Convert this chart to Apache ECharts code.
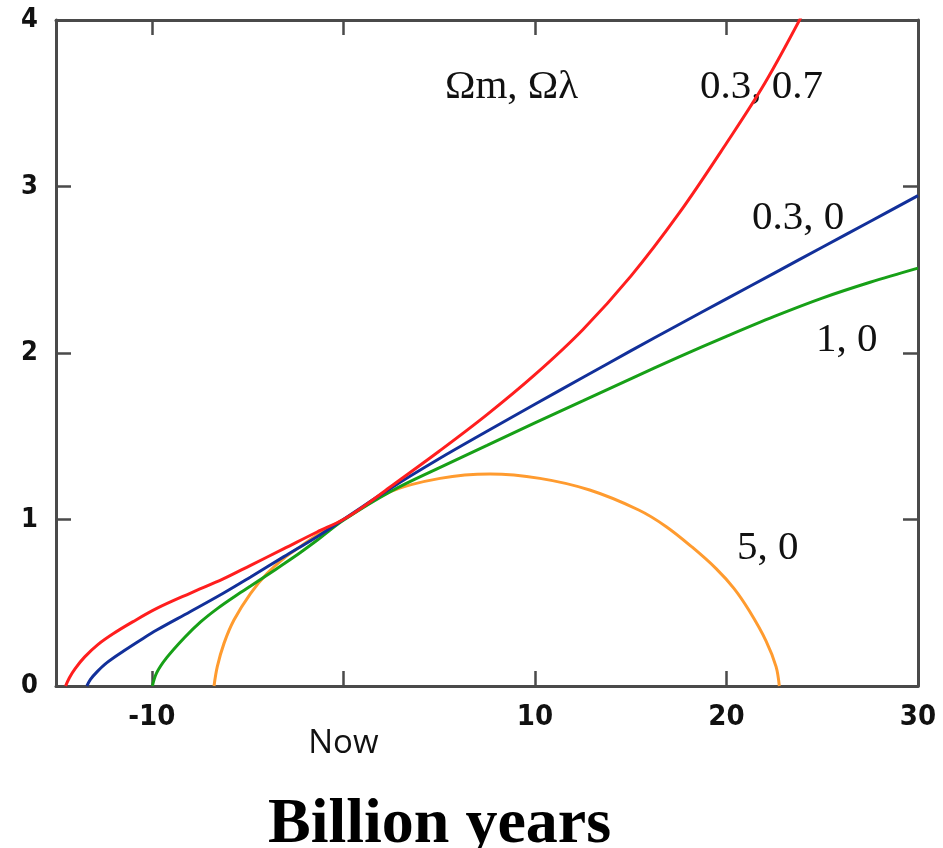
<!DOCTYPE html>
<html>
<head>
<meta charset="utf-8">
<script src="https://cdn.jsdelivr.net/npm/echarts@6/dist/echarts.min.js"></script>
<style>
html,body{margin:0;padding:0;background:#fff;}
#chart{width:943px;height:848px;}
</style>
</head>
<body>
<div id="chart"></div>
<script>
// x: billion years from now, y: relative size of the universe
const xTickValues = [-10, 0, 10, 20, 30];
const xTickLabels = ['-10', 'Now', '10', '20', '30'];

const redX = [-14.5, -14.3, -14.0, -13.5, -12.8, -12.0, -11.0, -9.74, -8, -6.27, -4.84, -3.1, -1.37, 0, 1.2, 2.5, 5, 7.5, 10, 12.5, 15, 17.5, 20, 22, 24];
const redY = [0, 0.05, 0.105, 0.175, 0.25, 0.315, 0.385, 0.466, 0.557, 0.643, 0.725, 0.825, 0.925, 1.0, 1.09, 1.2, 1.41, 1.63, 1.87, 2.14, 2.46, 2.835, 3.26, 3.62, 4.04];

const blueX = [-13.39, -13.2, -12.86, -12.34, -11.47, -10.6, -9.74, -8, -6.27, -4.84, -3.1, -1.37, 0, 2.5, 5, 7.5, 10, 12.5, 15, 17.5, 20, 22.5, 25, 27.5, 30];
const blueY = [0, 0.04, 0.085, 0.14, 0.21, 0.275, 0.336, 0.446, 0.557, 0.655, 0.777, 0.897, 1.0, 1.19, 1.365, 1.53, 1.6925, 1.8525, 2.0125, 2.17, 2.325, 2.48, 2.635, 2.79, 2.945];

const greenX = [-9.97, -9.74, -9.22, -8.3, -7.45, -6.58, -5.71, -4.84, -3.97, -3.1, -2.24, -1.37, 0, 2.5, 5, 7.5, 10, 12.5, 15, 17.5, 20, 22.5, 25, 27.5, 30];
const greenY = [0, 0.08, 0.17, 0.29, 0.385, 0.465, 0.535, 0.6, 0.667, 0.734, 0.802, 0.875, 0.995, 1.17, 1.31, 1.445, 1.58, 1.712, 1.845, 1.975, 2.1, 2.22, 2.33, 2.425, 2.51];

const orangeX = [-6.75, -6.58, -6.23, -5.71, -4.84, -3.97, -3.1, -2.24, -1.37, 0, 2.45, 5.05, 7.66, 10.26, 12.86, 15.42, 16.86, 18.2, 19.46, 20.4, 21.2, 22.07, 22.59, 22.76];
const orangeY = [0, 0.116, 0.256, 0.396, 0.557, 0.677, 0.767, 0.837, 0.907, 1.0, 1.167, 1.247, 1.273, 1.247, 1.177, 1.057, 0.957, 0.835, 0.705, 0.585, 0.45, 0.27, 0.116, 0];

const seriesNames = ['0.3, 0.7', '0.3, 0', '1, 0', '5, 0'];
const headerText = 'Ωm, Ωλ';
const xTitle = 'Billion years';

function pairs(xs, ys) { return xs.map((x, i) => [x, ys[i]]); }

const chart = echarts.init(document.getElementById('chart'), null, {renderer: 'canvas'});
const axisColor = '#4a4a4a';
const tickStyle = {show: true, inside: true, length: 15, lineStyle: {color: axisColor, width: 2.5}};
const lineStyleAxis = {show: true, onZero: false, lineStyle: {color: axisColor, width: 3}};
const serifFont = '"Liberation Serif", "Times New Roman", serif';
const annoFont = 'normal 41px ' + serifFont;
const tickFont = '"DejaVu Sans Condensed", "DejaVu Sans", sans-serif';

function mkLine(name, data, color) {
  return {
    name: name, type: 'line', data: data, smooth: 0.35, symbol: 'none',
    lineStyle: {color: color, width: 3}, clip: true, z: 3
  };
}

chart.setOption({
  animation: false,
  backgroundColor: '#ffffff',
  grid: {left: 56, right: 25, top: 20, bottom: 162, containLabel: false},
  title: {
    text: xTitle, left: 263, top: 788,
    textStyle: {fontFamily: serifFont, fontWeight: 'bold', fontSize: 64, color: '#000'}
  },
  xAxis: [{
    type: 'value', position: 'bottom', min: -15, max: 30,
    axisLine: lineStyleAxis,
    axisTick: Object.assign({}, tickStyle, {customValues: xTickValues}),
    splitLine: {show: false},
    axisLabel: {
      customValues: xTickValues,
      margin: 17,
      formatter: function (v) {
        const i = xTickValues.indexOf(v);
        const t = i >= 0 ? xTickLabels[i] : '';
        return v === 0 ? '{now|' + t + '}' : t;
      },
      fontFamily: tickFont, fontWeight: 'bold', fontSize: 29, color: '#111',
      rich: {
        now: {fontFamily: '"Open Sans", sans-serif', fontWeight: 'normal', fontSize: 33, color: '#111', padding: [24, 0, 0, 0]}
      }
    }
  }, {
    type: 'value', position: 'top', min: -15, max: 30,
    axisLine: lineStyleAxis,
    axisTick: Object.assign({}, tickStyle, {customValues: [-10, 0, 10, 20]}),
    axisLabel: {show: false}, splitLine: {show: false}
  }],
  yAxis: [{
    type: 'value', position: 'left', min: 0, max: 4, interval: 1,
    axisLine: lineStyleAxis, axisTick: tickStyle, splitLine: {show: false},
    axisLabel: {
      margin: 18,
      fontFamily: tickFont, fontWeight: 'bold', fontSize: 27, color: '#111'
    }
  }, {
    type: 'value', position: 'right', min: 0, max: 4, interval: 1,
    axisLine: lineStyleAxis, axisTick: tickStyle, splitLine: {show: false},
    axisLabel: {show: false}
  }],
  graphic: [
    {type: 'text', left: 445, top: 67, style: {text: headerText, font: annoFont, fill: '#111'}},
    {type: 'text', left: 700, top: 67, style: {text: seriesNames[0], font: annoFont, fill: '#111'}},
    {type: 'text', left: 752, top: 198, style: {text: seriesNames[1], font: annoFont, fill: '#111'}},
    {type: 'text', left: 816, top: 320, style: {text: seriesNames[2], font: annoFont, fill: '#111'}},
    {type: 'text', left: 737, top: 528, style: {text: seriesNames[3], font: annoFont, fill: '#111'}}
  ],
  series: [
    mkLine(seriesNames[3], pairs(orangeX, orangeY), '#ff9b2f'),
    mkLine(seriesNames[2], pairs(greenX, greenY), '#17a017'),
    mkLine(seriesNames[1], pairs(blueX, blueY), '#12309a'),
    mkLine(seriesNames[0], pairs(redX, redY), '#ff1e1e')
  ]
});
</script>
</body>
</html>
